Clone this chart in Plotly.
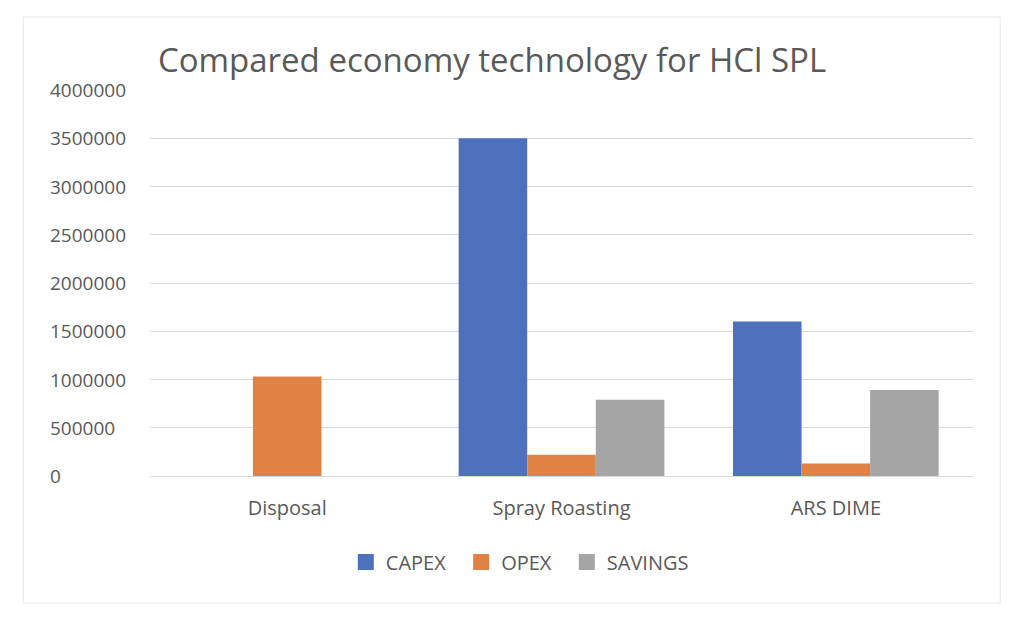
import plotly.graph_objects as go

categories = ["Disposal", "Spray Roasting", "ARS DIME"]
capex = [0, 3500000, 1600000]
opex = [1030000, 220000, 130000]
savings = [0, 790000, 890000]
tick_vals = [0, 500000, 1000000, 1500000, 2000000, 2500000, 3000000, 3500000, 4000000]
tick_text = [str(v) for v in tick_vals]

colors = {"CAPEX": "#4e71be", "OPEX": "#df8244", "SAVINGS": "#a5a5a5"}
font_family = "Open Sans, Liberation Sans, sans-serif"
text_color = "#595959"

fig = go.Figure()
series = [("CAPEX", capex), ("OPEX", opex), ("SAVINGS", savings)]
for name, vals in series:
    fig.add_trace(go.Bar(x=categories, y=vals, name=name, marker_color=colors[name],
                         marker_line_width=0, showlegend=False))
# legend entries with larger square swatches
for name, _ in series:
    fig.add_trace(go.Scatter(x=[None], y=[None], mode="markers", name=name + "\u00a0\u00a0",
                             marker=dict(symbol="square", size=18, color=colors[name]),
                             showlegend=True, hoverinfo="skip"))

fig.update_layout(
    width=1024, height=617,
    paper_bgcolor="white", plot_bgcolor="white",
    margin=dict(l=142, r=59, t=82, b=149),
    barmode="group", bargap=0.25, bargroupgap=0,
    font=dict(family=font_family, color=text_color, size=12),
    title=dict(text="Compared economy technology for HCl SPL", x=0.4727, xanchor="center",
               y=0.9157, yanchor="middle", xref="container", yref="container",
               font=dict(size=33, color=text_color, family=font_family)),
    legend=dict(orientation="h", x=0.456, xanchor="center", y=-0.223, yanchor="middle",
                font=dict(size=20, color=text_color), itemwidth=30, itemsizing="trace"),
    showlegend=True,
)
fig.update_yaxes(range=[0, 4000000], tickvals=tick_vals, showticklabels=False,
                 showgrid=True, gridcolor="#d9d9d9", gridwidth=1, zeroline=False,
                 showline=False, ticks="")
fig.update_xaxes(showline=True, linecolor="#d9d9d9", linewidth=1, ticks="",
                 ticklabelstandoff=14, tickfont=dict(size=20, color=text_color))

# left-aligned y tick labels (Excel style), positioned on the y scale
for v, t in zip(tick_vals, tick_text):
    fig.add_annotation(text=t, xref="paper", yref="y", x=-0.124, y=v, xanchor="left",
                       yanchor="middle", showarrow=False,
                       font=dict(size=19, color=text_color, family=font_family))

fig.add_shape(type="rect", xref="paper", yref="paper", x0=-0.154, x1=1.033, y0=-0.329, y1=1.189,
              line=dict(color="#e6e6e6", width=1), fillcolor="rgba(0,0,0,0)", layer="below")

fig.write_html("out.html")
